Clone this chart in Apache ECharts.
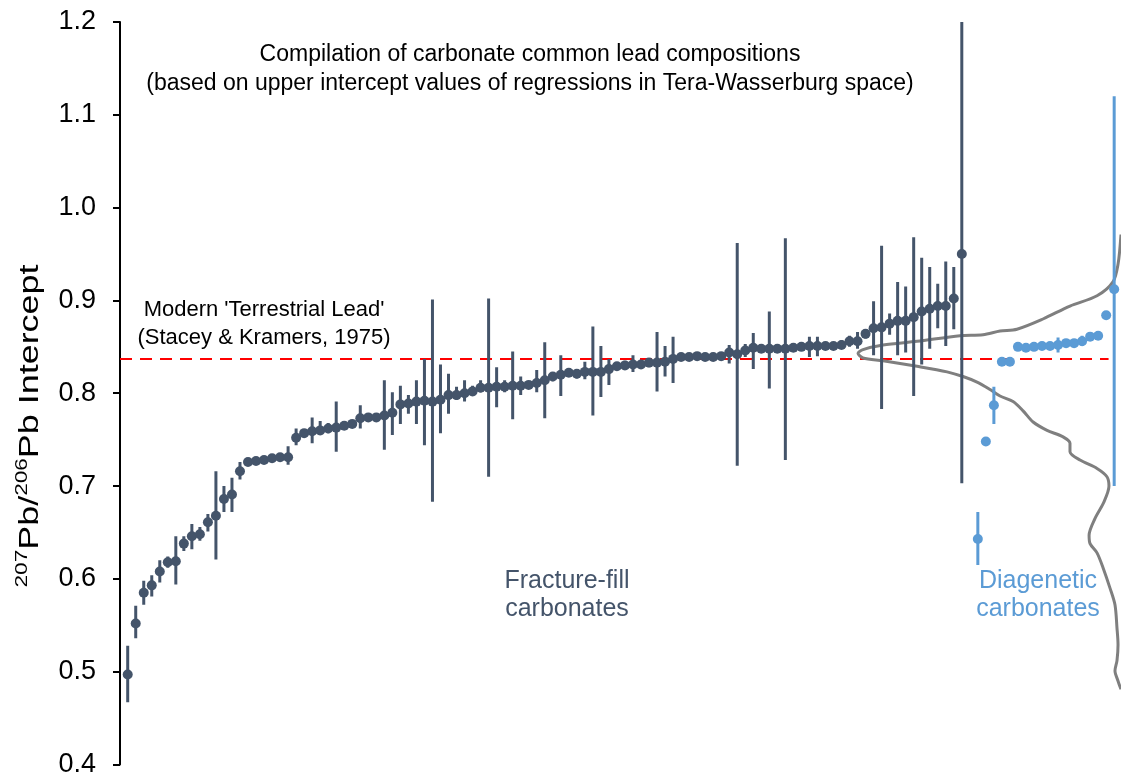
<!DOCTYPE html>
<html>
<head>
<meta charset="utf-8">
<script src="https://cdn.jsdelivr.net/npm/echarts@6/dist/echarts.min.js"></script>
<style>
  html, body { margin: 0; padding: 0; background: #fff; }
  #chart { width: 1121px; height: 778px; }
</style>
</head>
<body>
<div id="chart"></div>
<script>
// fracture-fill carbonates, sorted, with error bar ends
const fracValue = [0.497,0.552,0.585,0.593,0.608,0.618,0.619,0.638,0.646,0.648,
  0.661,0.668,0.686,0.691,0.716,0.726,0.727,0.728,0.730,0.731,
  0.731,0.752,0.757,0.759,0.760,0.762,0.763,0.765,0.767,0.773,
  0.774,0.774,0.776,0.779,0.788,0.789,0.791,0.792,0.791,0.793,
  0.798,0.798,0.800,0.802,0.806,0.806,0.807,0.807,0.808,0.808,
  0.809,0.811,0.814,0.818,0.820,0.822,0.821,0.823,0.823,0.823,
  0.826,0.829,0.830,0.831,0.831,0.833,0.833,0.834,0.837,0.839,
  0.839,0.840,0.839,0.839,0.840,0.844,0.842,0.846,0.849,0.848,
  0.848,0.848,0.848,0.849,0.850,0.851,0.851,0.851,0.851,0.852,
  0.856,0.856,0.864,0.870,0.871,0.875,0.878,0.878,0.882,0.888,
  0.891,0.894,0.894,0.902,0.950];
const fracLow = [0.467,0.536,0.572,0.581,0.596,0.612,0.594,0.630,0.632,0.641,
  0.651,0.621,0.672,0.672,0.707,0.723,0.724,0.725,0.727,0.728,
  0.723,0.744,0.753,0.746,0.756,0.757,0.737,0.762,0.764,0.762,
  0.771,0.771,0.739,0.755,0.767,0.778,0.767,0.744,0.683,0.757,
  0.778,0.793,0.791,0.797,0.801,0.710,0.785,0.801,0.772,0.798,
  0.806,0.801,0.773,0.813,0.797,0.819,0.816,0.815,0.776,0.796,
  0.809,0.826,0.825,0.823,0.826,0.828,0.802,0.818,0.811,0.836,
  0.836,0.837,0.836,0.836,0.837,0.832,0.722,0.839,0.826,0.845,
  0.805,0.845,0.728,0.846,0.847,0.839,0.840,0.848,0.848,0.848,
  0.850,0.848,0.859,0.841,0.783,0.863,0.841,0.844,0.797,0.831,
  0.848,0.870,0.851,0.869,0.703];
const fracHigh = [0.528,0.571,0.598,0.604,0.620,0.624,0.646,0.646,0.659,0.656,
  0.670,0.716,0.700,0.709,0.726,0.729,0.730,0.731,0.733,0.734,
  0.743,0.762,0.761,0.774,0.770,0.768,0.791,0.768,0.770,0.787,
  0.777,0.777,0.814,0.801,0.808,0.798,0.814,0.837,0.901,0.831,
  0.821,0.807,0.814,0.808,0.814,0.902,0.828,0.814,0.845,0.818,
  0.812,0.825,0.855,0.823,0.841,0.825,0.826,0.834,0.872,0.851,
  0.837,0.833,0.835,0.841,0.835,0.837,0.866,0.851,0.861,0.842,
  0.842,0.843,0.842,0.842,0.843,0.852,0.962,0.853,0.865,0.851,
  0.888,0.851,0.967,0.852,0.853,0.861,0.861,0.854,0.854,0.857,
  0.862,0.866,0.868,0.899,0.959,0.886,0.920,0.915,0.968,0.946,
  0.936,0.918,0.942,0.936,1.200];

// diagenetic carbonates, placed after one empty slot
const diagStart = 106;
const diagValue = [0.643,0.748,0.787,0.834,0.834,0.850,0.849,0.850,0.851,0.851,
  0.852,0.854,0.854,0.856,0.861,0.862,0.884,0.912];
const diagLow = [0.615,0.744,0.767,0.831,0.831,0.847,0.846,0.847,0.848,0.848,
  0.844,0.851,0.851,0.851,0.858,0.859,0.881,0.700];
const diagHigh = [0.672,0.752,0.807,0.837,0.837,0.853,0.852,0.853,0.854,0.854,
  0.860,0.857,0.857,0.862,0.864,0.865,0.887,1.120];

// density curve of all intercepts (drawn sideways from the right edge)
const curveX = [123.85,123.48,122.85,120.86,117.49,114.12,110.88,108.77,106.65,103.78,
  98.42,94.18,91.68,91.06,91.68,94.18,98.42,102.16,104.15,105.9,
  107.52,108.77,110.39,111.64,112.89,114.63,116.63,117.49,117.49,118.74,
  120.86,122.1,122.35,121.73,120.6,119.87,119.99,120.86,121.61,122.48,
  123.1,123.35,123.48,123.35,123.1,123.48,123.85];
const curveY = [0.971,0.939,0.920,0.905,0.894,0.880,0.869,0.867,0.863,0.862,
  0.856,0.852,0.847,0.843,0.838,0.835,0.829,0.823,0.818,0.812,
  0.804,0.797,0.791,0.781,0.769,0.760,0.753,0.746,0.737,0.728,
  0.719,0.710,0.700,0.683,0.665,0.647,0.638,0.628,0.612,0.590,
  0.572,0.547,0.529,0.512,0.501,0.490,0.481];

const refLead = 0.837; // Stacey & Kramers (1975)
const refEnd = 122.3;

const fracColor = '#44546A';
const diagColor = '#5B9BD5';
const font = 'Liberation Sans';

const fracPts = fracValue.map((v, i) => [i, v]);
const fracBars = fracValue.map((v, i) => [i, fracLow[i], fracHigh[i]]);
const diagPts = diagValue.map((v, i) => [diagStart + i, v]);
const diagBars = diagValue.map((v, i) => [diagStart + i, diagLow[i], diagHigh[i]]);
const curve = curveX.map((x, i) => [x, curveY[i]]);

function errorBars(color) {
  return function (params, api) {
    const lo = api.coord([api.value(0), api.value(1)]);
    const hi = api.coord([api.value(0), api.value(2)]);
    return {
      type: 'line',
      shape: { x1: lo[0], y1: lo[1], x2: hi[0], y2: hi[1] },
      style: { stroke: color, lineWidth: 3 }
    };
  };
}

function label(text, x, y, size, color) {
  return { type: 'text', x: x, y: y, style: { text: text, align: 'center', verticalAlign: 'middle', fontSize: size, lineHeight: size + 3, fontFamily: font, fill: color } };
}

const myChart = echarts.init(document.getElementById('chart'));
const option = {
  animation: false,
  backgroundColor: '#fff',
  grid: { left: 120, right: 0, top: 22, bottom: 11 },
  xAxis: {
    type: 'value',
    min: -0.96,
    max: 123.85,
    show: false
  },
  yAxis: [
    {
      type: 'value',
      min: 0.4,
      max: 1.2,
      interval: 0.1,
      axisLine: { show: true, onZero: false, lineStyle: { color: '#000', width: 2 } },
      axisTick: { show: true, inside: false, length: 7, lineStyle: { color: '#000', width: 2 } },
      axisLabel: {
        fontSize: 27,
        fontFamily: font,
        color: '#000',
        margin: 24,
        formatter: v => v.toFixed(1)
      },
      splitLine: { show: false }
    },
    {
      // thin frame line on the right edge
      type: 'value',
      min: 0.4,
      max: 1.2,
      position: 'right',
      axisLine: { show: true, onZero: false, lineStyle: { color: '#595959', width: 1 } },
      axisTick: { show: false },
      axisLabel: { show: false },
      splitLine: { show: false }
    }
  ],
  graphic: [
    {
      // y axis title, stretched along its length like the original figure
      type: 'text',
      x: 29,
      y: 426,
      rotation: Math.PI / 2,
      scaleX: 1.33,
      style: {
        text: '{sup|207}{m|Pb/}{sup|206}{m|Pb Intercept}',
        align: 'center',
        verticalAlign: 'middle',
        rich: {
          m: { fontSize: 27, fontFamily: font, fill: '#000', lineHeight: 30, verticalAlign: 'bottom' },
          sup: { fontSize: 17, fontFamily: font, fill: '#000', lineHeight: 30, verticalAlign: 'top' }
        }
      }
    },
    label('Compilation of carbonate common lead compositions', 530, 55, 23, '#000'),
    label('(based on upper intercept values of regressions in Tera-Wasserburg space)', 530, 84, 23, '#000'),
    label("Modern 'Terrestrial Lead'", 264, 310, 22, '#000'),
    label('(Stacey & Kramers, 1975)', 264, 338, 22, '#000'),
    label('Fracture-fill\ncarbonates', 567, 595, 25, fracColor),
    label('Diagenetic\ncarbonates', 1038, 595, 25, diagColor)
  ],
  series: [
    {
      type: 'line',
      data: [[-0.96, refLead], [refEnd, refLead]],
      showSymbol: false,
      lineStyle: { color: '#FF0000', width: 2, type: [12, 8] },
      z: 1
    },
    {
      type: 'line',
      data: curve,
      showSymbol: false,
      smooth: 0.3,
      lineStyle: { color: '#7F7F7F', width: 3 },
      z: 2
    },
    {
      type: 'custom',
      renderItem: errorBars(fracColor),
      data: fracBars,
      clip: true,
      z: 3
    },
    {
      type: 'scatter',
      data: fracPts,
      symbolSize: 10,
      itemStyle: { color: fracColor, opacity: 1 },
      z: 4
    },
    {
      type: 'custom',
      renderItem: errorBars(diagColor),
      data: diagBars,
      clip: true,
      z: 3
    },
    {
      type: 'scatter',
      data: diagPts,
      symbolSize: 10,
      itemStyle: { color: diagColor, opacity: 1 },
      z: 4
    }
  ]
};
myChart.setOption(option);
window.onresize = myChart.resize;
</script>
</body>
</html>
